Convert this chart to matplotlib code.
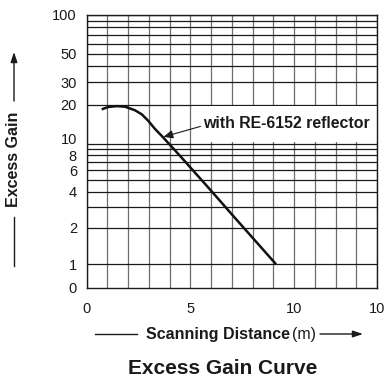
import matplotlib
matplotlib.use("Agg")
import numpy as np
import matplotlib.pyplot as plt
from matplotlib.patches import Rectangle
from matplotlib.transforms import ScaledTranslation

plt.rcParams['font.family'] = ['Liberation Sans', 'DejaVu Sans']

# ---- data ----
distance = [0.72, 1.04, 1.45, 1.85, 2.33, 2.66, 2.98, 3.30, 3.62, 4.11, 4.51, 6.04, 7.08, 9.13]
gain = [18.5, 19.3, 19.6, 19.4, 18.2, 16.9, 15.0, 13.0, 11.5, 9.4, 7.9, 4.0, 2.5, 1.0]

x_ticks = [0, 5, 10, 14]
x_tick_labels = ["0", "5", "10", "10"]
y_ticks = [0.638, 1, 2, 4, 6, 8, 10, 20, 30, 50, 100]
y_tick_labels = ["0", "1", "2", "4", "6", "8", "10", "20", "30", "50", "100"]
x_grid = list(range(0, 15))
y_grid = [1, 2, 3, 4, 5, 6, 7, 8, 9, 10, 20, 30, 40, 50, 60, 70, 80, 90, 100]

# chart paper: lower decade slightly compressed relative to upper decade
K_UPPER = 1.069


def fwd(y):
    y = np.asarray(y, dtype=float)
    L = np.log10(np.clip(y, 1e-6, None))
    return np.where(L <= 1, L, 1 + (L - 1) * K_UPPER)


def inv(v):
    v = np.asarray(v, dtype=float)
    L = np.where(v <= 1, v, 1 + (v - 1) / K_UPPER)
    return 10 ** L


W, H = 388, 380
fig = plt.figure(figsize=(W / 100, H / 100), dpi=100)
ax = fig.add_axes([86.7 / W, 1 - 287.7 / H, (377 - 86.7) / W, (287.7 - 15) / H])

ax.set_yscale('function', functions=(fwd, inv))
ax.set_xlim(0, 14)
ax.set_ylim(0.638, 100)

for xv in x_grid:
    ax.axvline(xv, color='#6e6e6e', lw=0.9, zorder=1)
for yv in y_grid:
    ax.axhline(yv, color='#1a1a1a', lw=0.9, zorder=1)

# white label area
ax.add_patch(Rectangle((5.08, 10.35), 14 - 5.08, 19.6 - 10.35, facecolor='white',
                       edgecolor='none', zorder=2))

ax.plot(distance, gain, color='#111111', lw=1.8, zorder=3, solid_capstyle='butt')

ax.annotate("with RE-6152 reflector", xy=(3.70, 11.3), xytext=(5.62, 14.4),
            ha='left', va='center', fontsize=11.4, fontweight='bold', color='#1a1a1a',
            arrowprops=dict(arrowstyle='-|>,head_length=0.5,head_width=0.22', color='#1a1a1a',
                            lw=0.8, shrinkA=0, shrinkB=0, relpos=(0, 0.35)),
            zorder=4)

ax.set_xticks(x_ticks)
ax.set_xticklabels(x_tick_labels)
ax.set_yticks(y_ticks)
ax.set_yticklabels(y_tick_labels)
ax.minorticks_off()
ax.tick_params(axis='both', length=0, labelsize=10.5, colors='#1a1a1a')
ax.tick_params(axis='x', pad=10)
ax.tick_params(axis='y', pad=7)
for s in ax.spines.values():
    s.set_color('#1a1a1a')
    s.set_linewidth(1.0)
    s.set_zorder(5)

# nudge the "10" label upward as on the reference paper
for lab in ax.get_yticklabels():
    if lab.get_text() == "10":
        lab.set_transform(lab.get_transform() + ScaledTranslation(0, 4 / 72, fig.dpi_scale_trans))


def fx(px):
    return px / W


def fy(py):
    return 1 - py / H


# y axis label with arrow and line
fig.text(fx(14), fy(159), "Excess Gain", rotation=90, ha='center', va='center',
         fontsize=11.5, fontweight='bold', color='#1a1a1a')
fig.add_artist(plt.Line2D([fx(14), fx(14)], [fy(217), fy(266)], color='#1a1a1a', lw=1.0))
ax.annotate('', xy=(fx(14), fy(52)), xytext=(fx(14), fy(101)), xycoords='figure fraction',
            textcoords='figure fraction',
            arrowprops=dict(arrowstyle='-|>,head_length=0.6,head_width=0.2', color='#1a1a1a',
                            lw=1.0, shrinkA=0, shrinkB=0))

# x axis label with line and arrow
fig.add_artist(plt.Line2D([fx(95), fx(137)], [fy(334), fy(334)], color='#1a1a1a', lw=1.0))
fig.text(fx(290), fy(334), "Scanning Distance", ha='right', va='center',
         fontsize=11.5, fontweight='bold', color='#1a1a1a')
fig.text(fx(292), fy(334), "(m)", ha='left', va='center', fontsize=11.5, color='#1a1a1a')
ax.annotate('', xy=(fx(363), fy(334)), xytext=(fx(320), fy(334)), xycoords='figure fraction',
            textcoords='figure fraction',
            arrowprops=dict(arrowstyle='-|>,head_length=0.6,head_width=0.2', color='#1a1a1a',
                            lw=1.0, shrinkA=0, shrinkB=0))

fig.text(fx(223), fy(368), "Excess Gain Curve", ha='center', va='center',
         fontsize=15, fontweight='bold', color='#1a1a1a')

fig.savefig("out.png", dpi=100)
